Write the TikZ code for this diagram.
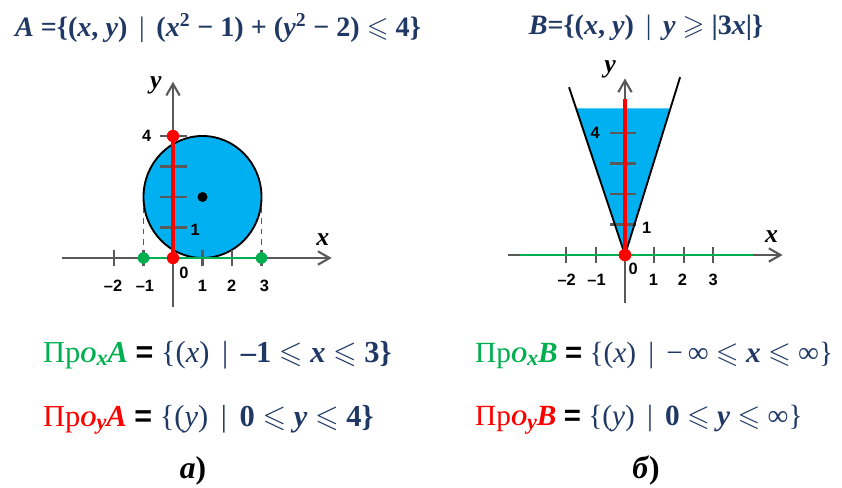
\documentclass[tikz,border=0pt]{standalone}
\usepackage{fontspec}
\usepackage{amssymb}
\setmainfont{Liberation Serif}
\setsansfont{Liberation Sans}
\usetikzlibrary{arrows.meta}
\definecolor{setblue}{HTML}{1F3864}
\definecolor{areablue}{HTML}{00B0F0}
\definecolor{projgreen}{HTML}{00B050}
\definecolor{projred}{HTML}{FF0000}
\definecolor{axisgray}{HTML}{595959}
\newcommand{\prj}[3]{\textcolor{#1}{Пр{\fontsize{19}{19}\selectfont\bfseries\itshape O\raisebox{-0.35ex}{#2}}\textbf{\textit{#3}}}}
\newcommand{\eqsign}{\textsf{\textbf{=}}}

\begin{document}
\begin{tikzpicture}[x=0.03cm, y=-0.03cm,
        axis/.style={draw=axisgray, line width=1.8pt, -{Straight Barb[length=3.5mm, width=4mm]}},
        tick/.style={draw=axisgray, line width=1.8pt},
        guide/.style={draw=axisgray, line width=0.9pt, dash pattern=on 5pt off 4pt},
        edge/.style={draw=black, line width=1.6pt},
        redseg/.style={draw=projred, line width=2.8pt},
        greenseg/.style={draw=projgreen, line width=2.4pt},
        reddot/.style={circle, fill=projred, inner sep=0pt, minimum size=0.37cm},
        greendot/.style={circle, fill=projgreen, inner sep=0pt, minimum size=0.35cm},
        centre/.style={circle, fill=black, inner sep=0pt, minimum size=0.3cm},
        num/.style={font=\sffamily\bfseries\fontsize{14}{14}\selectfont, inner sep=0pt},
        axname/.style={font=\bfseries\itshape\fontsize{22}{22}\selectfont, inner sep=0pt},
        setdef/.style={font=\bfseries\fontsize{24}{28}\selectfont, text=setblue, inner sep=0pt},
        projline/.style={font=\fontsize{26}{30}\selectfont, anchor=west, inner sep=0pt},
        caption/.style={font=\bfseries\fontsize{27}{30}\selectfont, inner sep=0pt}
      ]
        \useasboundingbox (0,0) rectangle (842,488);

        \node[setdef] (setA) at (218,28) {\textit{A} =\{(\textit{x}, \textit{y}) \,{\mdseries|}\, (\textit{x}\textsuperscript{2} − 1) + (\textit{y}\textsuperscript{2} − 2) $\leqslant$ 4\}};
        \node[setdef] (setB) at (646,28) {\textit{B}=\{(\textit{x}, \textit{y}) \,{\mdseries|}\, \textit{y} $\geqslant$ |3\textit{x}|\}};

        \begin{scope}[shift={(173,258)}, x=0.885cm, y=0.915cm]
          \coordinate (axl) at (-3.77,0);
          \coordinate (axr) at (5.38,0);
          \coordinate (ayb) at (0,-1.6);
          \coordinate (ayt) at (0,5.78);
          \coordinate (gdl) at (-1,2);
          \coordinate (gdr) at (3,2);
          \draw[guide] (gdl) -- (-1,0);
          \draw[guide] (gdr) -- (3,0);
          \draw[edge, fill=areablue] (1,2) circle[radius=2];
          \draw[axis] (axl) -- (axr);
          \draw[axis] (ayb) -- (ayt);
          \foreach \t in {-2,-1,1,2,3}
            \draw[tick] (\t,-0.27) -- (\t,0.27);
          \foreach \t in {1,2,3,4}
            \draw[tick] (-0.44,\t) -- (0.47,\t);
          \node[greendot] (ga1) at (-1,0) {};
          \node[greendot] (ga3) at (3,0) {};
          \draw[greenseg] (ga1) -- (ga3);
          \node[reddot] (ra0) at (0,0) {};
          \node[reddot] (ra4) at (0,4) {};
          \draw[redseg] (ra0) -- (ra4);
          \node[centre] (ca) at (1,2) {};
          \node[num] (ya4) at (-0.89,4) {4};
          \node[num] (ya1) at (0.75,0.92) {1};
          \node[num] (oa) at (0.37,-0.49) {0};
          \node[num] (xam2) at (-2.03,-0.9) {–2};
          \node[num] (xam1) at (-0.95,-0.9) {–1};
          \node[num] (xa1) at (1,-0.9) {1};
          \node[num] (xa2) at (1.99,-0.9) {2};
          \node[num] (xa3) at (3.1,-0.9) {3};
          \node[axname] (yna) at (-0.58,5.67) {y};
          \node[axname] (xna) at (5.08,0.59) {x};
        \end{scope}

        \begin{scope}[shift={(625,255)}, x=0.879cm, y=0.915cm]
          \coordinate (bxl) at (-3.99,0);
          \coordinate (bxr) at (5.38,0);
          \coordinate (byb) at (0,-1.57);
          \coordinate (byt) at (0,5.79);
          \coordinate (vl) at (-1.91,5.5);
          \coordinate (vr) at (1.88,5.83);
          \coordinate (gbl) at (-3.58,0);
          \coordinate (gbr) at (4.38,0);
          \coordinate (rtop) at (0,5.12);
          \fill[areablue] (0,0) -- (-1.67,4.81) -- (1.55,4.81) -- cycle;
          \draw[axis] (bxl) -- (bxr);
          \draw[axis] (byb) -- (byt);
          \foreach \t in {-2,-1,1,2,3}
            \draw[tick] (\t,-0.27) -- (\t,0.27);
          \foreach \t in {1,2,3,4}
            \draw[tick] (-0.51,\t) -- (0.38,\t);
          \draw[greenseg] (gbl) -- (gbr);
          \node[reddot] (rb0) at (0,0) {};
          \draw[edge] (rb0.center) -- (vl);
          \draw[edge] (rb0.center) -- (vr);
          \draw[redseg] (rb0) -- (rtop);
          \node[reddot] at (rb0) {};
          \node[num] (yb4) at (-1.02,4.02) {4};
          \node[num] (yb1) at (0.74,0.875) {1};
          \node[num] (ob) at (0.28,-0.44) {0};
          \node[num] (xbm2) at (-1.99,-0.82) {–2};
          \node[num] (xbm1) at (-0.97,-0.82) {–1};
          \node[num] (xb1) at (0.97,-0.82) {1};
          \node[num] (xb2) at (1.96,-0.82) {2};
          \node[num] (xb3) at (3.01,-0.82) {3};
          \node[axname] (ynb) at (-0.51,6.07) {y};
          \node[axname] (xnb) at (5,0.6) {x};
        \end{scope}

        \node[projline] (prxA) at (43,355) {\prj{projgreen}{x}{A} \eqsign{} {\color{setblue}\{(\textit{x}) \,|\, \textbf{–1 $\leqslant$ \textit{x} $\leqslant$ 3\}}}};
        \node[projline] (pryA) at (43,420) {\prj{projred}{y}{A} \eqsign{} {\color{setblue}\{(\textit{y}) \,|\, \textbf{0 $\leqslant$ \textit{y} $\leqslant$ 4\}}}};
        \node[caption] (capA) at (193,471) {\textit{а})};

        \node[projline, font=\fontsize{25}{30}\selectfont] (prxB) at (475,355) {\prj{projgreen}{x}{B} \eqsign{} {\color{setblue}\{(\textit{x}) \,|\, −\,∞ $\leqslant$ \textbf{\textit{x}} $\leqslant$ ∞\}}};
        \node[projline, font=\fontsize{25}{30}\selectfont] (pryB) at (475,420) {\prj{projred}{y}{B} \eqsign{} {\color{setblue}\{(\textit{y}) \,|\, \textbf{0} $\leqslant$ \textbf{\textit{y}} $\leqslant$ ∞\}}};
        \node[caption] (capB) at (646,471) {\textit{б})};
      \end{tikzpicture}
\end{document}
